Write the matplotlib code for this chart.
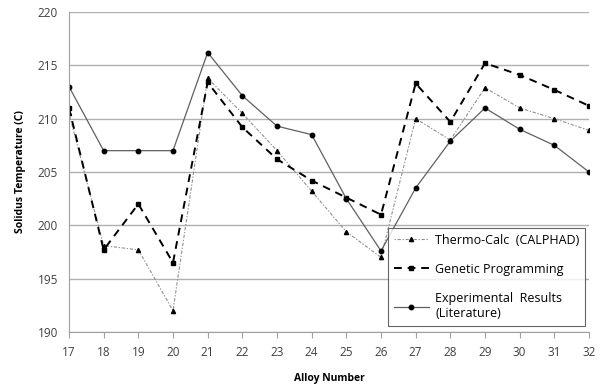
import matplotlib.pyplot as plt
import numpy as np

# Daten
alloys = list(range(17, 33))
thermo_calc = [210.5, 198.1, 197.7, 192.0, 213.8, 210.5, 207.0, 203.2,
               199.4, 197.0, 210.0, 208.0, 212.9, 211.0, 210.0, 208.9]
genetic = [211.0, 197.7, 202.0, 196.5, 213.4, 209.2, 206.2, 204.2,
           202.6, 201.0, 213.3, 209.7, 215.2, 214.1, 212.7, 211.2]
experimental = [213.0, 207.0, 207.0, 207.0, 216.2, 212.15, 209.3, 208.5,
                202.5, 197.6, 203.5, 207.9, 211.0, 209.0, 207.5, 205.0]

plt.rcParams['font.family'] = ['Open Sans', 'DejaVu Sans']

fig = plt.figure(figsize=(6.03, 3.9), dpi=100)
ax = fig.add_axes([0.1144, 0.1487, 0.8624, 0.8206])

ax.plot(alloys, thermo_calc, color='#909090', linestyle=(0, (1.2, 1.5, 3, 1.5)),
        linewidth=0.8, marker='^', markersize=3, markerfacecolor='black',
        markeredgecolor='black', label='Thermo-Calc  (CALPHAD)')
ax.plot(alloys, genetic, color='black', linestyle=(0, (4, 3)), linewidth=1.4,
        marker='s', markersize=3.3, markerfacecolor='black', markeredgecolor='black',
        label='Genetic Programming')
ax.plot(alloys, experimental, color='#606060', linestyle='-', linewidth=0.9,
        marker='o', markersize=3.2, markerfacecolor='black', markeredgecolor='black',
        label='Experimental  Results\n(Literature)')

ax.set_xlim(17, 32)
ax.set_ylim(190, 220)
ax.set_xticks(alloys)
ax.set_yticks(np.arange(190, 221, 5))
ax.yaxis.grid(True, color='#b0b0b0', linewidth=1)
ax.set_axisbelow(True)

for s in ['top', 'right']:
    ax.spines[s].set_visible(False)
for s in ['left', 'bottom']:
    ax.spines[s].set_color('#a0a0a0')
ax.tick_params(axis='y', length=0, labelsize=8.5, colors='#404040', pad=8)
ax.tick_params(axis='x', length=4, direction='out', color='#a0a0a0',
               labelsize=8.5, labelcolor='#404040', pad=6)

ax.set_xlabel('Alloy Number', fontsize=7.5, fontweight='bold', labelpad=10)
ax.set_ylabel('Solidus Temperature (C)', fontsize=7.5, fontweight='bold', labelpad=8)

leg = ax.legend(loc='lower right', bbox_to_anchor=(0.997, 0.012), fontsize=9,
                frameon=True, fancybox=False, edgecolor='#404040',
                handlelength=2.8, labelspacing=1.3, borderpad=0.45,
                handletextpad=0.5, borderaxespad=0.2)
leg.get_frame().set_linewidth(0.8)

fig.savefig('out.png', dpi=100)
